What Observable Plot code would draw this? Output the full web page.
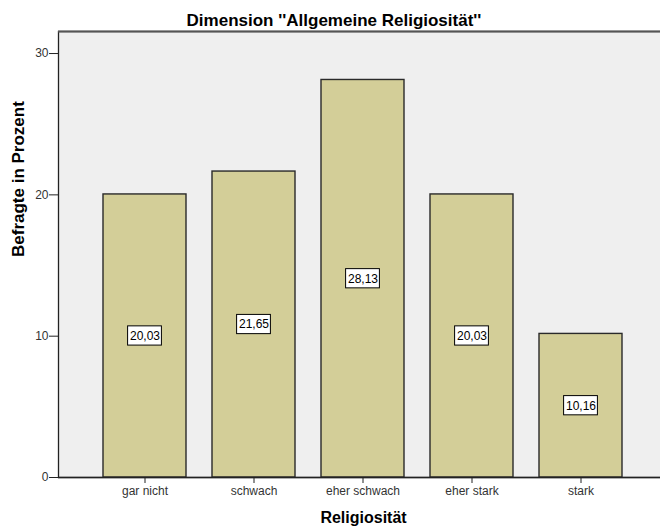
<!DOCTYPE html>
<html>
<head>
<meta charset="utf-8">
<script src="https://cdn.jsdelivr.net/npm/d3@7"></script>
<script src="https://cdn.jsdelivr.net/npm/@observablehq/plot@0.6"></script>
<style>
  html, body { margin: 0; padding: 0; background: white; }
</style>
</head>
<body>
<div id="chart"></div>
<script>
const categories = ["gar nicht", "schwach", "eher schwach", "eher stark", "stark"];
const values = [20.03, 21.65, 28.13, 20.03, 10.16];
const valueLabels = ["20,03", "21,65", "28,13", "20,03", "10,16"];
const yTicks = [0, 10, 20, 30];
const title = "Dimension ''Allgemeine Religiosität''";
const xLabel = "Religiosität";
const yLabel = "Befragte in Prozent";

const data = categories.map((c, i) => ({cat: c, value: values[i], label: valueLabels[i]}));
const yMax = 31.56;

const chart = Plot.plot({
  width: 660,
  height: 528,
  marginLeft: 58,
  marginRight: -7,
  marginTop: 31,
  marginBottom: 51,
  style: {fontFamily: "'Liberation Sans', Arial, sans-serif", background: "white", color: "#111"},
  x: {domain: categories, paddingInner: 0.24, paddingOuter: 0.4, axis: null},
  y: {domain: [0, yMax], axis: null},
  marks: [
    Plot.frame({fill: "#efefef", stroke: "#222", strokeWidth: 1.3}),
    Plot.ruleY([yMax], {stroke: "#555", strokeWidth: 2}),
    Plot.barY(data, {x: "cat", y: "value", fill: "#d3ce98", stroke: "#2a2a2a", strokeWidth: 1.4}),
    Plot.barY(data, {x: "cat", y1: d => d.value / 2 - 0.68, y2: d => d.value / 2 + 0.68,
      fill: "white", stroke: "black", strokeWidth: 1, insetLeft: 24.6, insetRight: 24.6}),
    Plot.text(data, {x: "cat", y: d => d.value / 2, text: "label", fontSize: 12, fill: "black"}),
    Plot.ruleY([0], {stroke: "#222", strokeWidth: 1.3}),
    Plot.axisY({ticks: yTicks, tickSize: 9, tickPadding: 1, fontSize: 12, label: null, tickFormat: d => String(d), stroke: "#222", fill: "#333"}),
    Plot.axisX({tickSize: 6, tickPadding: 3, fontSize: 12, label: null, stroke: "#222", fill: "#333"}),
    Plot.text([title], {frameAnchor: "top", lineAnchor: "middle", dx: -29, dy: -11, fontSize: 17, fontWeight: "bold", fill: "black"}),
    Plot.text([xLabel], {frameAnchor: "bottom", lineAnchor: "middle", dx: 0.5, dy: 40, fontSize: 16, fontWeight: "bold", fill: "black"}),
    Plot.text([yLabel], {frameAnchor: "left", lineAnchor: "middle", rotate: -90, dx: -40, dy: 2.5, fontSize: 17, fontWeight: "bold", fill: "black"})
  ]
});
document.getElementById("chart").appendChild(chart);
</script>
</body>
</html>
